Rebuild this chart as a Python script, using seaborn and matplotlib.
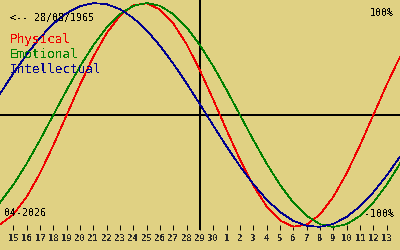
import matplotlib
matplotlib.use("Agg")
import matplotlib.pyplot as plt
import seaborn as sns
import pandas as pd

# Day offsets relative to 29 April 2026 (the marked day)
day_offset = [-16, -15, -14, -13, -12, -11, -10, -9, -8, -7, -6, -5, -4, -3, -2, -1,
              0, 1, 2, 3, 4, 5, 6, 7, 8, 9, 10, 11, 12, 13, 14, 15, 16]

physical = [-0.998, -0.979, -0.888, -0.731, -0.520, -0.270, 0.000, 0.270, 0.520, 0.731, 0.888,
            0.979, 0.998, 0.942, 0.817, 0.631, 0.398, 0.136, -0.136, -0.398, -0.631, -0.817,
            -0.942, -0.998, -0.979, -0.888, -0.731, -0.520, -0.270, 0.000, 0.270, 0.520, 0.731]
emotional = [-0.901, -0.782, -0.623, -0.434, -0.223, 0.000, 0.223, 0.434, 0.623, 0.782, 0.901,
             0.975, 1.000, 0.975, 0.901, 0.782, 0.623, 0.434, 0.223, 0.000, -0.223, -0.434,
             -0.623, -0.782, -0.901, -0.975, -1.000, -0.975, -0.901, -0.782, -0.623, -0.434, -0.223]
intellectual = [0.000, 0.189, 0.372, 0.541, 0.690, 0.815, 0.910, 0.972, 0.999, 0.990, 0.945,
                0.866, 0.756, 0.618, 0.458, 0.282, 0.095, -0.095, -0.282, -0.458, -0.618, -0.756,
                -0.866, -0.945, -0.990, -0.999, -0.972, -0.910, -0.815, -0.690, -0.541, -0.372, -0.189]

tick_offsets = [-14, -13, -12, -11, -10, -9, -8, -7, -6, -5, -4, -3, -2, -1, 0,
                1, 2, 3, 4, 5, 6, 7, 8, 9, 10, 11, 12, 13, 14]
tick_labels = ["15", "16", "17", "18", "19", "20", "21", "22", "23", "24", "25", "26",
               "27", "28", "29", "30", "1", "2", "3", "4", "5", "6", "7", "8", "9",
               "10", "11", "12", "13"]

series_names = ["Physical", "Emotional", "Intellectual"]
colors = {"Physical": "#f00000", "Emotional": "#008000", "Intellectual": "#000090"}
birth_label = "<-- 28/08/1965"
month_label = "04-2026"

BG = "#e0d183"

rows = []
for name, vals in zip(series_names, [physical, emotional, intellectual]):
    for d, v in zip(day_offset, vals):
        rows.append({"day": d, "value": v, "series": name})
df = pd.DataFrame(rows)

sns.set_style("white")
plt.rcParams["font.family"] = ["DejaVu Sans Mono", "DejaVu Sans"]
plt.rcParams["text.antialiased"] = False

fig = plt.figure(figsize=(4, 2.5), dpi=100, facecolor=BG)
ax = fig.add_axes([0, 20 / 250, 1, 230 / 250])
ax.set_facecolor(BG)

ax.axhline(0, color="black", lw=1.44, antialiased=False, zorder=1)
ax.axvline(0, color="black", lw=1.44, antialiased=False, zorder=1)

sns.lineplot(data=df, x="day", y="value", hue="series", palette=colors,
             estimator=None, legend=False, lw=0.5, ax=ax, antialiased=False, zorder=2)

ax.set_xlim(-15, 15)
ax.set_ylim(-1.027, 1.027)
for s in ax.spines.values():
    s.set_visible(False)
ax.set_xlabel("")
ax.set_ylabel("")
ax.set_yticks([])
ax.set_xticks(tick_offsets)
ax.set_xticklabels(tick_labels, fontsize=6.4, fontweight="bold")
ax.tick_params(axis="x", direction="in", length=3.6, width=0.7, pad=3.0,
               color="black", bottom=True)

def ftext(x, y, s, **kw):
    fig.text(x / 400, 1 - y / 250, s, va="baseline", **kw)

ftext(10, 21, birth_label, fontsize=7.2, color="black")
ftext(394, 16, "100%", fontsize=7.2, color="black", ha="right")
ftext(394, 217, "-100%", fontsize=7.2, color="black", ha="right")
ftext(4, 216, month_label, fontsize=7.2, color="black")
ftext(10, 43, "Physical", fontsize=9.2, color=colors["Physical"])
ftext(10, 58, "Emotional", fontsize=9.2, color=colors["Emotional"])
ftext(10, 73, "Intellectual", fontsize=9.2, color=colors["Intellectual"])

fig.savefig("out.png", dpi=100, facecolor=BG)
